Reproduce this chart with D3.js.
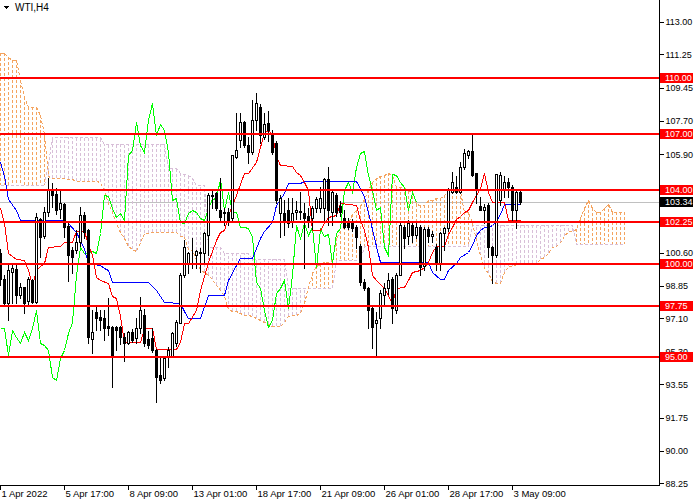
<!DOCTYPE html>
<html>
<head>
<meta charset="utf-8">
<script src="https://cdn.jsdelivr.net/npm/d3@7"></script>
<style>
  body { margin: 0; background: #fff; }
  svg { display: block; font-family: "Liberation Sans", Arial, sans-serif; }
</style>
</head>
<body>
<div id="chart"></div>
<script>
// ---- Data ----
const symbolTitle = "WTI,H4";
const dateTicks = [0, 16, 32, 48, 64, 80, 96, 112, 128];
const dateLabels = ["1 Apr 2022", "5 Apr 17:00", "8 Apr 09:00", "13 Apr 01:00", "18 Apr 17:00",
    "21 Apr 09:00", "26 Apr 01:00", "28 Apr 17:00", "3 May 09:00"];
const priceTicks = [113.00, 111.25, 109.45, 107.70, 105.90, 100.60, 98.85, 97.10, 95.30, 93.55, 91.75, 90.00, 88.25];
const levels = [110.00, 107.00, 104.00, 102.25, 100.00, 97.75, 95.00];
const bidPrice = 103.34;

const opens = [100.6, 99.2, 97.9, 99.6, 99.72, 98.35, 98.76, 98.0, 99.15, 97.95,
    102.4, 101.5, 102.8, 103.98, 103.75, 102.95, 103.2, 102.05, 100.76, 100.76,
    101.2, 102.64, 101.83, 96.0, 97.45, 97.15, 97.1, 96.7, 96.65, 96.65,
    96.65, 96.1, 95.76, 96.38, 96.02, 96.56, 97.27, 96.0, 96.02, 95.4,
    94.06, 93.88, 95.04, 95.04, 95.76, 96.83, 99.42, 100.05, 100.58, 100.5,
    100.67, 100.58, 101.56, 103.71, 103.8, 102.9, 102.81, 102.81, 102.46, 105.76,
    106.66, 107.64, 106.39, 106.03, 107.73, 108.4, 106.84, 107.55, 107.0, 106.5,
    102.72, 102.72, 102.9, 102.28, 102.8, 102.85, 102.76, 102.6, 102.46, 102.99,
    103.0, 103.0, 104.55, 102.8, 103.71, 103.1, 102.46, 102.28, 102.3, 102.0,
    101.0, 99.06, 98.7, 97.63, 96.83, 97.1, 98.35, 98.7, 99.2, 97.55,
    99.42, 102.0, 101.5, 102.1, 101.56, 102.0, 99.9, 101.9, 101.5, 100.94,
    100.05, 101.65, 101.92, 103.89, 104.15, 103.89, 105.23, 105.85, 106.07, 104.87,
    103.12, 102.9, 103.17, 100.94, 100.49, 103.44, 103.98, 104.42, 104.15, 102.9,
    103.89];
const highs = [100.8, 99.4, 99.96, 99.96, 99.96, 98.97, 98.8, 99.3, 99.2, 102.73,
    102.5, 103.08, 104.6, 104.33, 104.1, 103.98, 103.26, 102.3, 100.94, 101.83,
    103.08, 102.8, 101.9, 97.54, 97.7, 97.54, 97.54, 98.17, 96.7, 96.7,
    96.7, 96.3, 96.4, 96.5, 97.1, 98.26, 97.6, 96.4, 96.56, 95.45,
    94.95, 95.04, 95.58, 96.38, 97.01, 99.51, 101.3, 100.67, 101.39, 100.75,
    100.85, 101.74, 103.8, 103.98, 103.85, 104.6, 102.99, 102.99, 105.85, 108.09,
    108.09, 107.7, 106.84, 108.8, 109.16, 108.6, 108.1, 108.2, 107.2, 106.6,
    103.71, 103.44, 103.53, 103.53, 103.4, 103.87, 103.26, 102.99, 103.1, 103.6,
    104.15, 104.6, 105.2, 104.0, 103.8, 103.4, 102.9, 102.46, 102.4, 102.1,
    101.1, 99.2, 98.8, 97.8, 97.45, 98.6, 98.97, 99.5, 99.3, 99.5,
    102.2, 102.1, 102.36, 102.3, 102.2, 102.1, 102.0, 102.0, 101.8, 101.1,
    101.74, 102.0, 104.1, 104.96, 104.7, 105.5, 106.2, 106.1, 107.0, 104.9,
    103.6, 103.2, 103.26, 101.0, 104.85, 104.96, 104.7, 104.6, 104.24, 104.0,
    104.0];
const lows = [98.9, 97.8, 97.0, 97.9, 97.9, 98.17, 97.36, 97.85, 97.9, 97.9,
    100.4, 101.4, 102.6, 103.08, 102.7, 102.46, 101.47, 99.1, 99.5, 100.6,
    101.0, 101.4, 95.76, 95.22, 96.47, 96.47, 95.94, 96.2, 93.43, 95.4,
    95.7, 94.8, 95.7, 95.8, 95.76, 96.3, 95.6, 95.5, 95.31, 92.63,
    93.61, 93.79, 94.51, 95.0, 95.6, 96.83, 99.33, 99.51, 99.78, 99.78,
    99.6, 100.05, 100.5, 102.99, 102.9, 102.37, 102.1, 102.1, 102.37, 105.7,
    106.3, 106.3, 105.41, 105.9, 107.19, 106.5, 106.7, 106.6, 105.9, 103.3,
    101.47, 101.56, 102.01, 102.01, 102.4, 102.4, 99.78, 102.0, 101.9, 102.8,
    102.8, 102.3, 102.1, 102.1, 102.6, 102.6, 101.92, 101.9, 101.8, 100.85,
    98.9, 98.6, 96.6, 95.5, 95.04, 96.6, 97.8, 98.4, 96.83, 97.4,
    99.4, 100.85, 101.1, 101.2, 101.4, 99.42, 99.7, 101.2, 101.2, 99.69,
    99.69, 100.76, 101.8, 103.8, 103.8, 103.8, 105.1, 105.7, 104.7, 103.26,
    102.9, 102.2, 100.4, 99.0, 100.4, 103.17, 103.6, 103.6, 102.28, 101.92,
    103.2];
const closes = [99.2, 97.9, 99.69, 99.8, 98.35, 98.76, 97.9, 99.2, 97.95, 102.55,
    101.47, 102.82, 103.98, 103.71, 102.9, 103.26, 102.01, 100.49, 100.4, 101.21,
    102.64, 101.74, 96.11, 96.38, 97.1, 97.0, 96.56, 96.6, 95.13, 96.47,
    96.11, 95.76, 96.38, 95.94, 96.56, 97.54, 95.76, 95.67, 95.4, 93.97,
    93.79, 94.95, 95.4, 96.29, 96.92, 99.42, 100.94, 100.62, 100.62, 100.7,
    100.6, 101.65, 103.71, 103.65, 102.99, 102.55, 102.75, 102.37, 105.85, 106.12,
    107.64, 106.39, 106.03, 107.73, 108.62, 106.9, 107.5, 107.2, 106.03, 103.44,
    103.53, 102.28, 102.19, 102.76, 102.9, 102.8, 102.46, 102.37, 102.99, 103.49,
    103.53, 104.55, 102.9, 103.89, 102.81, 102.8, 102.01, 102.01, 101.92, 101.47,
    99.06, 98.7, 97.54, 96.65, 97.0, 98.44, 98.7, 99.15, 97.63, 99.42,
    102.1, 101.38, 102.2, 101.56, 102.0, 99.86, 101.9, 101.5, 101.6, 100.05,
    101.65, 101.92, 103.98, 104.42, 103.89, 105.23, 105.94, 106.07, 104.78, 103.98,
    102.9, 103.08, 100.94, 100.49, 104.82, 104.78, 104.42, 104.15, 102.9, 103.89,
    103.34];

// Tenkan-sen and Kijun-sen, [bar, price] turning points
const tenkan = [[0, 103.0], [1, 102.2], [2, 100.6], [4, 100.3], [6, 100.2], [7, 99.7], [8, 98.9], [9, 99.7],
    [10, 99.9], [11, 100.05], [12, 100.9], [15, 101.0], [16, 101.2], [18, 101.2], [19, 101.8], [21, 101.8],
    [22, 101.1], [23, 100.5], [24, 99.3], [25, 99.15], [27, 98.97], [28, 98.3], [29, 98.2], [30, 97.2],
    [31, 95.8], [35, 95.8], [36, 96.56], [38, 96.56], [39, 95.43], [44, 95.43], [45, 95.85], [46, 96.83],
    [47, 96.83], [49, 97.54], [50, 98.62], [52, 100.14], [54, 101.3], [55, 101.74], [56, 101.83],
    [57, 102.64], [59, 103.71], [61, 104.87], [62, 104.87], [64, 105.5], [66, 107.1], [67, 107.2],
    [68, 107.0], [69, 105.8], [70, 105.3], [73, 105.26], [74, 104.96], [75, 104.78], [76, 104.42],
    [77, 103.98], [78, 101.83], [80, 101.83], [81, 102.19], [82, 102.55], [84, 102.64], [85, 103.26],
    [89, 103.17], [90, 102.37], [91, 101.83], [92, 100.94], [93, 99.42], [94, 99.15], [96, 98.71],
    [98, 97.9], [99, 98.7], [101, 98.8], [102, 99.15], [103, 99.6], [105, 99.69], [106, 99.87],
    [107, 100.13], [108, 100.67], [109, 100.97], [111, 100.97], [112, 101.6], [113, 102.0], [114, 102.4],
    [115, 102.6], [116, 102.81], [117, 102.9], [118, 103.35], [119, 103.71], [120, 104.1], [121, 104.87],
    [122, 103.89], [123, 103.35], [126, 103.35], [127, 102.37], [130, 102.37]];
const kijun = [[0, 105.5], [1, 104.7], [2, 103.5], [4, 102.9], [5, 102.37], [16, 102.37], [17, 102.2],
    [19, 101.74], [20, 101.3], [21, 100.8], [22, 100.05], [25, 99.96], [26, 99.78], [27, 99.69], [28, 99.06],
    [37, 99.06], [39, 98.6], [41, 97.99], [45, 97.9], [46, 97.5], [47, 97.1], [50, 97.1], [52, 98.35],
    [56, 98.35], [57, 99.15], [59, 99.96], [60, 100.31], [63, 100.31], [64, 100.85], [65, 101.39],
    [66, 101.8], [68, 102.28], [69, 103.17], [71, 103.8], [72, 104.33], [75, 104.33], [76, 104.46],
    [89, 104.46], [90, 104.06], [91, 103.62], [92, 102.8], [93, 101.9], [94, 101.0], [95, 100.13],
    [107, 100.13], [108, 99.6], [110, 99.19], [111, 99.19], [112, 99.69], [114, 100.08], [115, 100.4],
    [117, 100.67], [118, 101.03], [119, 101.56], [120, 101.83], [121, 102.01], [122, 102.01], [123, 102.1],
    [124, 102.3], [125, 102.7], [126, 103.21], [130, 103.21]];

// Senkou span A / B, one value per bar (cloud runs 26 bars past the last candle)
const spanA = [111.3, 111.3, 111.1, 110.95, 110.95, 109.9, 108.96, 108.4, 108.4, 108.4,
    108.0, 107.0, 104.7, 104.6, 104.6, 104.6, 104.6, 104.55, 104.55, 104.45,
    104.45, 104.45, 104.45, 104.45, 104.45, 104.4, 103.9, 103.3, 102.8, 102.2,
    101.7, 101.4, 101.0, 100.8, 100.7, 101.2, 101.65, 101.65, 101.7, 101.75,
    101.75, 101.75, 101.75, 101.75, 101.75, 101.5, 101.45, 100.8, 100.75, 100.2,
    99.7, 99.6, 99.4, 99.2, 98.9, 98.6, 98.3, 97.6, 97.5, 97.5,
    97.4, 97.3, 97.3, 97.2, 97.1, 97.0, 96.9, 96.8, 96.7, 96.7,
    96.7, 96.9, 97.2, 97.3, 97.3, 97.4, 97.9, 98.8, 99.5, 99.9,
    100.0, 100.1, 100.1, 100.2, 101.4, 101.8, 102.0, 102.2, 102.7, 102.9,
    103.1, 103.5, 104.0, 104.4, 104.6, 104.7, 104.8, 104.87, 104.8, 104.15,
    104.15, 104.15, 103.9, 103.9, 103.2, 103.17, 103.17, 103.44, 103.44, 103.53,
    103.53, 103.7, 103.9, 103.9, 103.9, 103.9, 102.8, 102.8, 102.2, 101.3,
    100.5, 99.8, 99.5, 99.1, 98.97, 99.0, 99.6, 99.9, 99.9, 100.0,
    100.05, 100.05, 100.05, 100.05, 100.05, 100.3, 100.4, 100.6, 100.9, 101.0,
    101.2, 101.5, 101.8, 101.8, 101.9, 102.5, 103.0, 103.45, 103.0, 102.8,
    102.8, 103.0, 103.25, 102.8, 102.8, 102.8, 102.8];
const spanB = [104.25, 104.25, 104.25, 104.25, 104.25, 104.25, 104.25, 104.25, 104.25, 104.25,
    104.25, 104.25, 105.4, 106.8, 106.8, 106.8, 106.8, 106.8, 106.8, 106.8,
    106.8, 106.8, 106.8, 106.8, 106.8, 106.8, 106.45, 106.45, 106.45, 106.45,
    106.45, 106.45, 106.45, 106.45, 106.45, 106.45, 106.45, 106.45, 106.45, 106.45,
    106.45, 106.45, 105.15, 105.15, 105.15, 104.9, 104.85, 104.8, 104.6, 104.25,
    104.25, 104.25, 100.9, 100.9, 100.9, 100.9, 100.6, 100.6, 100.6, 100.6,
    100.6, 100.6, 100.6, 100.3, 100.3, 100.3, 100.3, 100.3, 100.3, 100.3,
    100.3, 100.3, 98.7, 98.7, 98.7, 98.7, 98.7, 98.7, 98.7, 98.7,
    98.7, 98.7, 98.7, 98.7, 100.2, 100.2, 100.2, 100.2, 100.2, 100.2,
    100.2, 101.0, 101.0, 101.0, 101.0, 101.0, 101.0, 101.0, 101.0, 101.0,
    101.0, 101.0, 101.0, 101.0, 101.0, 101.0, 101.0, 101.0, 101.0, 101.0,
    101.0, 101.0, 101.0, 101.0, 101.0, 101.0, 101.0, 101.0, 102.1, 102.1,
    102.1, 102.1, 102.1, 102.1, 102.1, 102.1, 102.1, 102.1, 102.1, 102.1,
    102.1, 102.1, 102.1, 102.1, 102.1, 102.1, 102.1, 102.1, 102.1, 102.1,
    102.1, 102.1, 102.1, 102.1, 101.1, 101.1, 101.1, 101.1, 101.1, 101.1,
    101.1, 101.1, 101.1, 101.1, 101.1, 101.1, 101.1];
const chikouShift = 26;

// ---- Canvas ----
const width = 700, height = 500;
const plotRight = 659, plotBottom = 486;

const svg = d3.select("#chart")
    .append("svg")
    .attr("width", width)
    .attr("height", height)
    .style("shape-rendering", "crispEdges");

svg.append("defs").append("clipPath").attr("id", "plotClip")
    .append("rect").attr("x", 0).attr("y", 0).attr("width", plotRight).attr("height", plotBottom);

// Define Scales (4 px per bar)
const xScale = d3.scaleLinear().domain([0, 156]).range([0, 624]);
const yScale = d3.scaleLinear().domain([88.25, 113]).range([483.3, 21.7]);
const px = i => Math.round(xScale(i));
const py = v => Math.round(yScale(v));

const plot = svg.append("g").attr("clip-path", "url(#plotClip)");

// Bid line
plot.append("line")
    .attr("x1", 0).attr("x2", plotRight)
    .attr("y1", py(bidPrice) + 0.5).attr("y2", py(bidPrice) + 0.5)
    .attr("stroke", "#c0c0c0");

// Ichimoku cloud hatch
const sandy = "#f4a460", thistle = "#d8bfd8";
plot.append("g").selectAll("line")
    .data(d3.range(spanA.length))
    .join("line")
    .attr("x1", i => px(i) + 0.5).attr("x2", i => px(i) + 0.5)
    .attr("y1", i => py(spanA[i])).attr("y2", i => py(spanB[i]))
    .attr("stroke", i => spanA[i] >= spanB[i] ? sandy : thistle)
    .attr("stroke-dasharray", "3,2");

const lineGen = d3.line()
    .x(d => px(d[0]) + 0.5)
    .y(d => py(d[1]) + 0.5);

// Span edges (dotted)
plot.append("path")
    .datum(spanB.map((v, i) => [i, v]))
    .attr("fill", "none").attr("stroke", thistle).attr("stroke-dasharray", "3,2")
    .attr("d", lineGen);
plot.append("path")
    .datum(spanA.map((v, i) => [i, v]))
    .attr("fill", "none").attr("stroke", sandy).attr("stroke-dasharray", "3,2")
    .attr("d", lineGen);

// Chikou span: closes drawn 26 bars back
plot.append("path")
    .datum(closes.slice(chikouShift).map((v, i) => [i, v]))
    .attr("fill", "none").attr("stroke", "#00ff00")
    .attr("d", lineGen);

plot.append("path").datum(kijun)
    .attr("fill", "none").attr("stroke", "#0000ff")
    .attr("d", lineGen);

plot.append("path").datum(tenkan)
    .attr("fill", "none").attr("stroke", "#ff0000")
    .attr("d", lineGen);

// Candles
const candles = plot.append("g").selectAll("g")
    .data(d3.range(opens.length))
    .join("g");

candles.append("line")
    .attr("x1", i => px(i) + 0.5).attr("x2", i => px(i) + 0.5)
    .attr("y1", i => py(highs[i])).attr("y2", i => py(lows[i]) + 1)
    .attr("stroke", "#000");

candles.append("rect")
    .attr("x", i => px(i) - 0.5)
    .attr("y", i => Math.min(py(opens[i]), py(closes[i])) + 0.5)
    .attr("width", 2)
    .attr("height", i => Math.max(0, Math.abs(py(opens[i]) - py(closes[i]))))
    .attr("fill", i => closes[i] >= opens[i] ? "#fff" : "#000")
    .attr("stroke", "#000");

// Horizontal levels
plot.append("g").selectAll("line")
    .data(levels)
    .join("line")
    .attr("x1", 0).attr("x2", plotRight)
    .attr("y1", d => py(d)).attr("y2", d => py(d))
    .attr("stroke", "#ff0000")
    .attr("stroke-width", 2);

// Frame
svg.append("line")
    .attr("x1", plotRight + 0.5).attr("x2", plotRight + 0.5)
    .attr("y1", 0).attr("y2", plotBottom)
    .attr("stroke", "#000");
svg.append("line")
    .attr("x1", 0).attr("x2", plotRight + 1)
    .attr("y1", plotBottom - 0.5).attr("y2", plotBottom - 0.5)
    .attr("stroke", "#000");

// Price axis
const yAxis = svg.append("g")
    .attr("transform", `translate(${plotRight + 0.5},0)`)
    .call(d3.axisRight(yScale).tickValues(priceTicks).tickSize(4).tickPadding(2).tickFormat(d3.format(".2f")));
yAxis.select(".domain").remove();
yAxis.selectAll("text").attr("font-size", 9).attr("font-family", "Liberation Sans, Arial, sans-serif").attr("fill", "#000");

// Time axis
const xAxis = svg.append("g")
    .attr("transform", `translate(0,${plotBottom - 0.5})`)
    .call(d3.axisBottom(xScale).tickValues(dateTicks).tickSize(4).tickPadding(1)
        .tickFormat((d, i) => dateLabels[i]));
xAxis.select(".domain").remove();
xAxis.selectAll("text")
    .attr("text-anchor", "start")
    .attr("x", 1)
    .attr("font-size", 9.5).attr("font-family", "Liberation Sans, Arial, sans-serif").attr("fill", "#000");

// Level tags on the price scale
const tags = svg.append("g").selectAll("g")
    .data(levels.map(v => ({ v, bg: "#ff0000" })).concat([{ v: bidPrice, bg: "#000" }]))
    .join("g")
    .attr("transform", d => `translate(${plotRight + 1},${py(d.v)})`);
tags.append("rect")
    .attr("x", 0).attr("y", -5).attr("width", 33).attr("height", 10)
    .attr("fill", d => d.bg);
tags.append("text")
    .attr("x", 5).attr("y", 0).attr("dy", "0.35em")
    .attr("font-size", 9).attr("fill", "#fff")
    .text(d => d.v.toFixed(2));

// Title
svg.append("path").attr("d", "M3,6 L9,6 L6,9 Z").attr("fill", "#000");
svg.append("text")
    .attr("x", 15).attr("y", 11)
    .attr("font-size", 10).attr("fill", "#000")
    .text(symbolTitle);
</script>
</body>
</html>
